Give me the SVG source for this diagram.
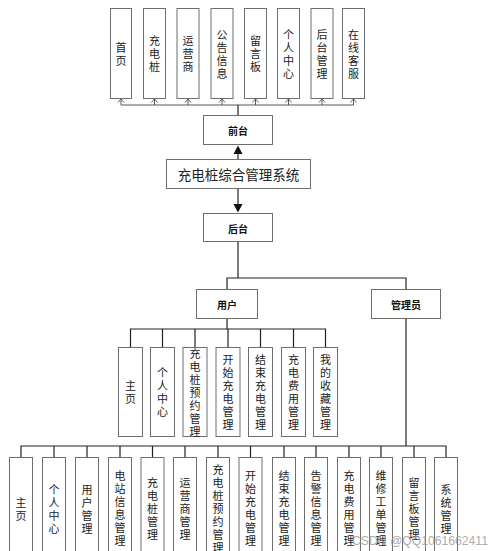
<svg xmlns="http://www.w3.org/2000/svg" width="499" height="551" viewBox="0 0 499 551">
<defs>
<style>
.box{fill:#fff;stroke:#6e6e6e;stroke-width:1}
.ln{fill:none;stroke:#222;stroke-width:1.2}
.lt{fill:none;stroke:#555;stroke-width:1}
.ah{fill:none;stroke:#555;stroke-width:0.9}
.t{font-family:"Noto Sans CJK SC","Liberation Sans",sans-serif;font-size:11px;fill:#222;text-anchor:middle;dominant-baseline:central}
.tb{font-family:"Noto Sans CJK SC","Liberation Sans",sans-serif;font-size:10px;fill:#111;font-weight:bold;text-anchor:middle;dominant-baseline:central}
.title{font-family:"Noto Sans CJK SC","Liberation Serif",serif;font-size:13.5px;fill:#222;text-anchor:middle;dominant-baseline:central}
.wm{font-family:"Liberation Sans",sans-serif;font-size:13px;fill:#a0a0a0;opacity:0.85}
</style>
</defs>
<rect width="499" height="551" fill="#fff"/>

<g id="connectors">
<path class="lt" d="M121,105 H353.5"/>
<path class="ln" d="M238,105 V115"/>
<path class="lt" d="M121,105 V98.5 M154.5,105 V98.5 M188,105 V98.5 M222,105 V98.5 M255.5,105 V98.5 M288.5,105 V98.5 M322,105 V98.5 M353.5,105 V98.5"/>
<path class="ah" d="M118,102.5 L121,98.8 L124,102.5 M151.5,102.5 L154.5,98.8 L157.5,102.5 M185,102.5 L188,98.8 L191,102.5 M219,102.5 L222,98.8 L225,102.5 M252.5,102.5 L255.5,98.8 L258.5,102.5 M285.5,102.5 L288.5,98.8 L291.5,102.5 M319,102.5 L322,98.8 L325,102.5 M350.5,102.5 L353.5,98.8 L356.5,102.5"/>
<path class="ln" d="M238,159 V154"/>
<path d="M233.5,154 L242.5,154 L238,145.5 Z" fill="#111"/>
<path class="ln" d="M238,189 V204"/>
<path d="M233.5,204 L242.5,204 L238,212.5 Z" fill="#111"/>
<path class="ln" d="M238,242 V278 M227,289 V278 H406 V289"/>
<path class="ln" d="M227,318 V329 M130.5,347 V329 H325.5 V347 M162.5,329 V347 M195,329 V347 M228,329 V347 M260.5,329 V347 M293.5,329 V347"/>
<path class="ln" d="M406,319 V446"/>
<path class="ln" d="M21,457 V446 H446 V457 M54,446 V457 M87,446 V457 M120,446 V457 M152.5,446 V457 M185,446 V457 M218,446 V457 M250.5,446 V457 M284,446 V457 M316,446 V457 M349,446 V457 M381,446 V457 M414,446 V457"/>
</g>

<g id="n-shouye"><rect class="box" x="110.5" y="8.5" width="21" height="90"/><text class="t"><tspan x="121" y="46.5">首</tspan><tspan x="121" y="59.5">页</tspan></text></g>
<g id="n-chongdianzhuang"><rect class="box" x="143.5" y="8.5" width="22" height="90"/><text class="t"><tspan x="154.5" y="40">充</tspan><tspan x="154.5" y="53">电</tspan><tspan x="154.5" y="66">桩</tspan></text></g>
<g id="n-yunyingshang"><rect class="box" x="177" y="8.5" width="22" height="90"/><text class="t"><tspan x="188" y="40">运</tspan><tspan x="188" y="53">营</tspan><tspan x="188" y="66">商</tspan></text></g>
<g id="n-gonggao"><rect class="box" x="211" y="8.5" width="22" height="90"/><text class="t"><tspan x="222" y="33.5">公</tspan><tspan x="222" y="46.5">告</tspan><tspan x="222" y="59.5">信</tspan><tspan x="222" y="72.5">息</tspan></text></g>
<g id="n-liuyanban"><rect class="box" x="244.5" y="8.5" width="22" height="90"/><text class="t"><tspan x="255.5" y="40">留</tspan><tspan x="255.5" y="53">言</tspan><tspan x="255.5" y="66">板</tspan></text></g>
<g id="n-gerenzhongxin"><rect class="box" x="277.5" y="8.5" width="22" height="90"/><text class="t"><tspan x="288.5" y="33.5">个</tspan><tspan x="288.5" y="46.5">人</tspan><tspan x="288.5" y="59.5">中</tspan><tspan x="288.5" y="72.5">心</tspan></text></g>
<g id="n-houtaiguanli"><rect class="box" x="311" y="8.5" width="22" height="90"/><text class="t"><tspan x="322" y="33.5">后</tspan><tspan x="322" y="46.5">台</tspan><tspan x="322" y="59.5">管</tspan><tspan x="322" y="72.5">理</tspan></text></g>
<g id="n-zaixiankefu"><rect class="box" x="342.5" y="8.5" width="22" height="90"/><text class="t"><tspan x="353.5" y="33.5">在</tspan><tspan x="353.5" y="46.5">线</tspan><tspan x="353.5" y="59.5">客</tspan><tspan x="353.5" y="72.5">服</tspan></text></g>

<g id="n-qiantai"><rect class="box" x="203.5" y="115.5" width="69" height="29"/><text class="tb" x="238" y="130">前台</text></g>
<g id="n-main"><rect class="box" x="166.5" y="159.5" width="144" height="29"/><text class="title" x="238.5" y="174">充电桩综合管理系统</text></g>
<g id="n-houtai"><rect class="box" x="203.5" y="213.5" width="69" height="28"/><text class="tb" x="238" y="228">后台</text></g>
<g id="n-yonghu"><rect class="box" x="196.5" y="289.5" width="61" height="29"/><text class="tb" x="227" y="304">用户</text></g>
<g id="n-guanliyuan"><rect class="box" x="371.5" y="289.5" width="69" height="29"/><text class="tb" x="406" y="304">管理员</text></g>

<g id="u-zhuye"><rect class="box" x="118.5" y="347.5" width="24" height="89"/><text class="t"><tspan x="130.5" y="385">主</tspan><tspan x="130.5" y="398">页</tspan></text></g>
<g id="u-geren"><rect class="box" x="150.5" y="347.5" width="24" height="89"/><text class="t"><tspan x="162.5" y="372">个</tspan><tspan x="162.5" y="385">人</tspan><tspan x="162.5" y="398">中</tspan><tspan x="162.5" y="411">心</tspan></text></g>
<g id="u-yuyue"><rect class="box" x="183" y="347.5" width="24" height="89"/><text class="t"><tspan x="195" y="352.5">充</tspan><tspan x="195" y="365.5">电</tspan><tspan x="195" y="378.5">桩</tspan><tspan x="195" y="391.5">预</tspan><tspan x="195" y="404.5">约</tspan><tspan x="195" y="417.5">管</tspan><tspan x="195" y="430.5">理</tspan></text></g>
<g id="u-kaishi"><rect class="box" x="216" y="347.5" width="24" height="89"/><text class="t"><tspan x="228" y="359">开</tspan><tspan x="228" y="372">始</tspan><tspan x="228" y="385">充</tspan><tspan x="228" y="398">电</tspan><tspan x="228" y="411">管</tspan><tspan x="228" y="424">理</tspan></text></g>
<g id="u-jieshu"><rect class="box" x="248.5" y="347.5" width="24" height="89"/><text class="t"><tspan x="260.5" y="359">结</tspan><tspan x="260.5" y="372">束</tspan><tspan x="260.5" y="385">充</tspan><tspan x="260.5" y="398">电</tspan><tspan x="260.5" y="411">管</tspan><tspan x="260.5" y="424">理</tspan></text></g>
<g id="u-feiyong"><rect class="box" x="281.5" y="347.5" width="24" height="89"/><text class="t"><tspan x="293.5" y="359">充</tspan><tspan x="293.5" y="372">电</tspan><tspan x="293.5" y="385">费</tspan><tspan x="293.5" y="398">用</tspan><tspan x="293.5" y="411">管</tspan><tspan x="293.5" y="424">理</tspan></text></g>
<g id="u-shoucang"><rect class="box" x="313.5" y="347.5" width="24" height="89"/><text class="t"><tspan x="325.5" y="359">我</tspan><tspan x="325.5" y="372">的</tspan><tspan x="325.5" y="385">收</tspan><tspan x="325.5" y="398">藏</tspan><tspan x="325.5" y="411">管</tspan><tspan x="325.5" y="424">理</tspan></text></g>

<g id="a-zhuye"><rect class="box" x="9.5" y="457.5" width="23" height="100"/><text class="t"><tspan x="21" y="502">主</tspan><tspan x="21" y="515">页</tspan></text></g>
<g id="a-geren"><rect class="box" x="42.5" y="457.5" width="23" height="100"/><text class="t"><tspan x="54" y="489">个</tspan><tspan x="54" y="502">人</tspan><tspan x="54" y="515">中</tspan><tspan x="54" y="528">心</tspan></text></g>
<g id="a-yonghu"><rect class="box" x="75.5" y="457.5" width="23" height="100"/><text class="t"><tspan x="87" y="489">用</tspan><tspan x="87" y="502">户</tspan><tspan x="87" y="515">管</tspan><tspan x="87" y="528">理</tspan></text></g>
<g id="a-dianzhan"><rect class="box" x="108.5" y="457.5" width="23" height="100"/><text class="t"><tspan x="120" y="475">电</tspan><tspan x="120" y="488">站</tspan><tspan x="120" y="501">信</tspan><tspan x="120" y="514">息</tspan><tspan x="120" y="527">管</tspan><tspan x="120" y="540">理</tspan></text></g>
<g id="a-zhuang"><rect class="box" x="141" y="457.5" width="23" height="100"/><text class="t"><tspan x="152.5" y="482">充</tspan><tspan x="152.5" y="495">电</tspan><tspan x="152.5" y="508">桩</tspan><tspan x="152.5" y="521">管</tspan><tspan x="152.5" y="534">理</tspan></text></g>
<g id="a-yunying"><rect class="box" x="173.5" y="457.5" width="23" height="100"/><text class="t"><tspan x="185" y="482">运</tspan><tspan x="185" y="495">营</tspan><tspan x="185" y="508">商</tspan><tspan x="185" y="521">管</tspan><tspan x="185" y="534">理</tspan></text></g>
<g id="a-yuyue"><rect class="box" x="206.5" y="457.5" width="23" height="100"/><text class="t"><tspan x="218" y="469">充</tspan><tspan x="218" y="482">电</tspan><tspan x="218" y="495">桩</tspan><tspan x="218" y="508">预</tspan><tspan x="218" y="521">约</tspan><tspan x="218" y="534">管</tspan><tspan x="218" y="546.5">理</tspan></text></g>
<g id="a-kaishi"><rect class="box" x="239" y="457.5" width="23" height="100"/><text class="t"><tspan x="250.5" y="475">开</tspan><tspan x="250.5" y="488">始</tspan><tspan x="250.5" y="501">充</tspan><tspan x="250.5" y="514">电</tspan><tspan x="250.5" y="527">管</tspan><tspan x="250.5" y="540">理</tspan></text></g>
<g id="a-jieshu"><rect class="box" x="272.5" y="457.5" width="23" height="100"/><text class="t"><tspan x="284" y="475">结</tspan><tspan x="284" y="488">束</tspan><tspan x="284" y="501">充</tspan><tspan x="284" y="514">电</tspan><tspan x="284" y="527">管</tspan><tspan x="284" y="540">理</tspan></text></g>
<g id="a-gaojing"><rect class="box" x="304.5" y="457.5" width="23" height="100"/><text class="t"><tspan x="316" y="475">告</tspan><tspan x="316" y="488">警</tspan><tspan x="316" y="501">信</tspan><tspan x="316" y="514">息</tspan><tspan x="316" y="527">管</tspan><tspan x="316" y="540">理</tspan></text></g>
<g id="a-feiyong"><rect class="box" x="337.5" y="457.5" width="23" height="100"/><text class="t"><tspan x="349" y="475">充</tspan><tspan x="349" y="488">电</tspan><tspan x="349" y="501">费</tspan><tspan x="349" y="514">用</tspan><tspan x="349" y="527">管</tspan><tspan x="349" y="540">理</tspan></text></g>
<g id="a-weixiu"><rect class="box" x="369.5" y="457.5" width="23" height="100"/><text class="t"><tspan x="381" y="475">维</tspan><tspan x="381" y="488">修</tspan><tspan x="381" y="501">工</tspan><tspan x="381" y="514">单</tspan><tspan x="381" y="527">管</tspan><tspan x="381" y="540">理</tspan></text></g>
<g id="a-liuyan"><rect class="box" x="402.5" y="457.5" width="23" height="100"/><text class="t"><tspan x="414" y="482">留</tspan><tspan x="414" y="495">言</tspan><tspan x="414" y="508">板</tspan><tspan x="414" y="521">管</tspan><tspan x="414" y="534">理</tspan></text></g>
<g id="a-xitong"><rect class="box" x="434.5" y="457.5" width="23" height="100"/><text class="t"><tspan x="446" y="489">系</tspan><tspan x="446" y="502">统</tspan><tspan x="446" y="515">管</tspan><tspan x="446" y="528">理</tspan></text></g>

<text class="wm" x="352" y="545" textLength="136" lengthAdjust="spacingAndGlyphs">CSDN @QQ1061662411</text>
</svg>
